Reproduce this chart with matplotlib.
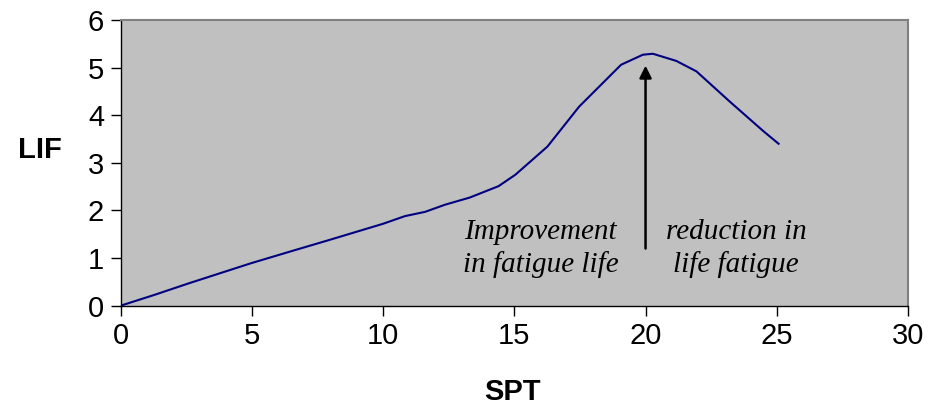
import numpy as np
import matplotlib.pyplot as plt

#######################################################
# values
SPT = [0, 1.25, 2.6, 4.96, 6.6, 7.89, 10.0, 10.83, 11.6, 12.36, 13.3, 14.4, 15.04,
       16.26, 17.47, 19.07, 19.9, 20.28, 21.17, 21.94, 23.2, 24.5, 25.07]
LIF = [0, 0.22, 0.47, 0.89, 1.16, 1.37, 1.72, 1.88, 1.97, 2.12, 2.27, 2.51, 2.75,
       3.34, 4.18, 5.06, 5.27, 5.29, 5.14, 4.92, 4.29, 3.66, 3.40]

X_Ticks = [0, 5, 10, 15, 20, 25, 30]
Y_Ticks = [0, 1, 2, 3, 4, 5, 6]

Arrow_X      = 20
Arrow_Bottom = 1.2
Arrow_Top    = 5.04
Left_Note  = 'Improvement\nin fatigue life'
Right_Note = 'reduction in\nlife fatigue'
#######################################################

plt.rcParams['font.family'] = ['Liberation Sans', 'DejaVu Sans']

fig = plt.figure(figsize=(9.3, 4.07), dpi=100)
ax = fig.add_axes([0.1298, 0.249, 0.8465, 0.702])
ax.set_facecolor('#C0C0C0')

ax.plot(SPT, LIF, color='#000080', lw=1.5)

ax.annotate('', xy=(Arrow_X, Arrow_Top), xytext=(Arrow_X, Arrow_Bottom),
            arrowprops=dict(arrowstyle='-|>', color='black', lw=1.8,
                            mutation_scale=18, shrinkA=0, shrinkB=0))

ax.text(16.0, 1.2, Left_Note, ha='center', va='center', fontsize=21,
        family=['Liberation Serif', 'DejaVu Serif'], style='italic', linespacing=1.3)
ax.text(23.45, 1.2, Right_Note, ha='center', va='center', fontsize=21,
        family=['Liberation Serif', 'DejaVu Serif'], style='italic', linespacing=1.3)

ax.set_xlim(0, 30)
ax.set_ylim(0, 6)
ax.set_xticks(X_Ticks)
ax.set_yticks(Y_Ticks)
ax.tick_params(axis='both', direction='out', length=7, width=1, labelsize=21, pad=5)

for side in ['top', 'right']:
    ax.spines[side].set_color('#808080')
    ax.spines[side].set_linewidth(1.5)
for side in ['left', 'bottom']:
    ax.spines[side].set_color('black')
    ax.spines[side].set_linewidth(1)

fig.text(40 / 930, 1 - 150 / 407, 'LIF', ha='center', va='center', fontsize=21, fontweight='bold')
fig.text(512 / 930, 1 - 392 / 407, 'SPT', ha='center', va='center', fontsize=21, fontweight='bold')

fig.savefig('out.png', dpi=100)
